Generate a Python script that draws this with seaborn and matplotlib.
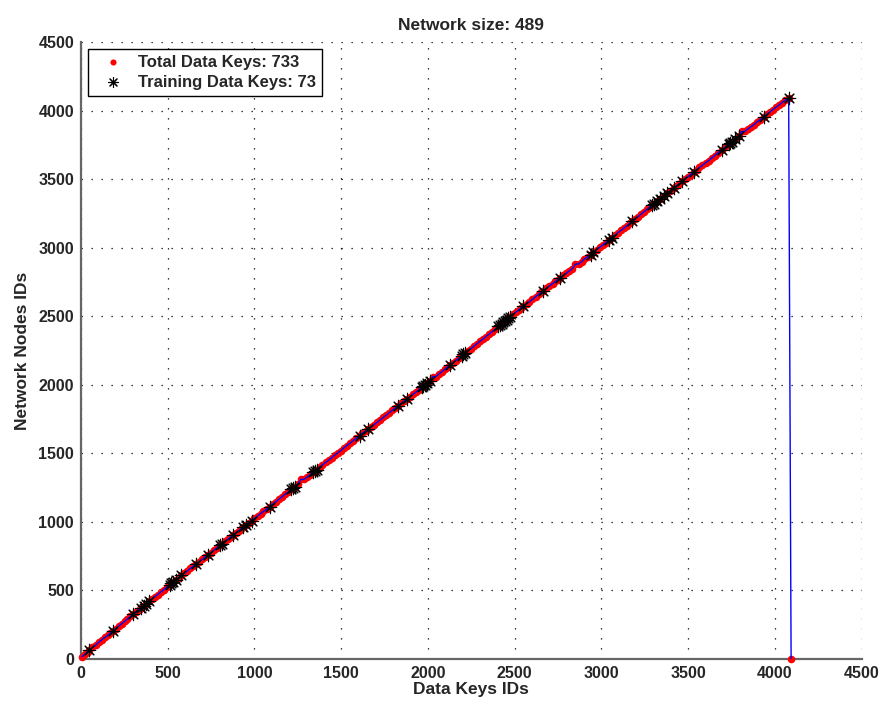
import matplotlib
matplotlib.use("Agg")
import matplotlib.pyplot as plt
import seaborn as sns
import pandas as pd

# ---- data ----
data_keys = [
    6, 22, 38, 49, 66, 84, 102, 120, 138, 155, 170, 184, 200, 218, 235, 252, 268, 285, 300, 316,
    332, 348, 362, 377, 392, 408, 425, 442, 460, 476, 494, 511, 521, 530, 547, 563, 579, 596, 613, 630,
    648, 665, 682, 700, 716, 732, 750, 767, 784, 800, 815, 832, 848, 862, 877, 894, 910, 922, 934, 950,
    966, 983, 1000, 1018, 1035, 1052, 1070, 1088, 1105, 1122, 1140, 1158, 1175, 1194, 1213, 1223, 1233, 1250, 1268, 1285,
    1302, 1320, 1338, 1348, 1358, 1375, 1392, 1410, 1428, 1445, 1462, 1480, 1498, 1515, 1532, 1550, 1568, 1588, 1608, 1622,
    1640, 1656, 1672, 1690, 1708, 1725, 1742, 1760, 1778, 1795, 1812, 1829, 1845, 1862, 1877, 1895, 1912, 1930, 1948, 1964,
    1974, 1983, 1993, 2010, 2028, 2045, 2062, 2080, 2098, 2115, 2127, 2142, 2160, 2178, 2195, 2204, 2213, 2230, 2248, 2265,
    2282, 2300, 2318, 2335, 2352, 2370, 2388, 2406, 2416, 2425, 2435, 2444, 2454, 2464, 2473, 2490, 2508, 2524, 2538, 2550,
    2568, 2585, 2602, 2620, 2638, 2652, 2665, 2682, 2700, 2718, 2735, 2750, 2762, 2780, 2798, 2815, 2832, 2850, 2868, 2885,
    2902, 2920, 2937, 2954, 2972, 2990, 3008, 3025, 3042, 3060, 3078, 3095, 3112, 3130, 3148, 3162, 3175, 3192, 3210, 3228,
    3245, 3262, 3278, 3291, 3300, 3320, 3339, 3358, 3377, 3396, 3416, 3432, 3448, 3464, 3480, 3498, 3515, 3531, 3548, 3565,
    3582, 3600, 3618, 3635, 3652, 3670, 3695, 3714, 3733, 3742, 3752, 3772, 3791, 3808, 3825, 3842, 3860, 3878, 3895, 3915,
    3935, 3952, 3970, 3988, 4005, 4022, 4040, 4058, 4079, 4093,
]
data_nodes = [
    17, 35, 52, 66, 84, 100, 122, 140, 158, 172, 192, 206, 222, 240, 258, 275, 292, 310, 326, 342,
    360, 374, 390, 404, 420, 436, 452, 470, 488, 505, 522, 540, 552, 560, 578, 594, 610, 626, 642, 660,
    676, 692, 710, 726, 744, 760, 776, 794, 810, 828, 842, 858, 874, 890, 904, 920, 936, 950, 962, 976,
    992, 1008, 1026, 1044, 1060, 1076, 1094, 1112, 1130, 1146, 1164, 1182, 1200, 1218, 1238, 1248, 1258, 1276, 1310, 1310,
    1326, 1344, 1362, 1372, 1382, 1400, 1416, 1434, 1450, 1468, 1486, 1504, 1520, 1540, 1556, 1574, 1592, 1612, 1630, 1646,
    1662, 1678, 1694, 1710, 1728, 1746, 1762, 1780, 1798, 1816, 1832, 1848, 1864, 1880, 1896, 1912, 1930, 1946, 1964, 1982,
    1992, 2000, 2010, 2026, 2060, 2060, 2078, 2096, 2114, 2132, 2144, 2158, 2176, 2194, 2212, 2222, 2232, 2248, 2264, 2282,
    2300, 2318, 2336, 2352, 2370, 2388, 2406, 2426, 2436, 2446, 2456, 2466, 2476, 2486, 2496, 2514, 2532, 2548, 2562, 2574,
    2590, 2606, 2624, 2642, 2660, 2674, 2688, 2704, 2722, 2738, 2754, 2768, 2780, 2798, 2814, 2832, 2848, 2880, 2882, 2898,
    2918, 2934, 2950, 2968, 2986, 3004, 3020, 3038, 3056, 3072, 3092, 3110, 3126, 3144, 3162, 3178, 3192, 3208, 3226, 3244,
    3262, 3280, 3296, 3310, 3320, 3340, 3358, 3378, 3396, 3414, 3434, 3450, 3466, 3484, 3500, 3518, 3534, 3552, 3568, 3586,
    3602, 3620, 3636, 3654, 3672, 3690, 3714, 3734, 3754, 3764, 3774, 3792, 3812, 3848, 3848, 3864, 3880, 3898, 3916, 3934,
    3956, 3972, 3990, 4008, 4024, 4040, 4058, 4076, 4092, 0,
]
training_keys = [
    49, 184, 300, 348, 377, 511, 530, 579, 665, 732, 800, 815, 877, 934, 983,
    1088, 1213, 1233, 1338, 1358, 1608, 1656, 1829, 1877, 1964, 1983, 1993,
    2127, 2204, 2213, 2406, 2425, 2444, 2464, 2473, 2550, 2665, 2762, 2954, 3060,
    3175, 3291, 3300, 3339, 3377, 3416, 3464, 3531, 3695, 3733, 3752, 3791, 3935, 4079,
    362, 392, 521, 547, 950, 1223, 1348, 2010, 1974, 2416, 2435, 2454, 2195,
    3320, 3358, 3742, 3772, 3042, 2937,
]
total_data_keys = 733
network_size = 489
x_ticks = [0, 500, 1000, 1500, 2000, 2500, 3000, 3500, 4000, 4500]
y_ticks = [0, 500, 1000, 1500, 2000, 2500, 3000, 3500, 4000, 4500]

node_of = dict(zip(data_keys, data_nodes))
df_all = pd.DataFrame({"key": data_keys, "node": data_nodes})
df_train = pd.DataFrame({"key": training_keys,
                         "node": [node_of[k] for k in training_keys]})

sns.set_style("white")
plt.rcParams["font.family"] = ["Liberation Sans", "DejaVu Sans"]
plt.rcParams["font.weight"] = "bold"

fig = plt.figure(figsize=(8.82, 7.02), dpi=100)
ax = fig.add_axes([0.0918, 0.0613, 0.8852, 0.8787])

sns.scatterplot(data=df_all, x="key", y="node", ax=ax, color="#ff0000",
                marker="o", s=30, linewidth=0, zorder=6, clip_on=False,
                label=f"Total Data Keys: {total_data_keys}")
sns.lineplot(data=df_all, x="key", y="node", ax=ax, sort=False,
             estimator=None, color="#0000ff", linewidth=1.0, zorder=7,
             legend=False)
sns.scatterplot(data=df_train, x="key", y="node", ax=ax, color="black",
                marker=(8, 2, 0), s=80, linewidth=0.8, zorder=8,
                label=f"Training Data Keys: {len(df_train)}")

ax.set_xlim(0, 4500)
ax.set_ylim(0, 4500)
ax.set_xticks(x_ticks)
ax.set_yticks(y_ticks)
ax.set_xticklabels([str(t) for t in x_ticks], fontsize=11.5, fontweight="bold")
ax.set_yticklabels([str(t) for t in y_ticks], fontsize=11.5, fontweight="bold")
ax.tick_params(direction="in", length=6, width=1.0, color="#333333", pad=5)

ax.grid(True, color="black", linestyle=(0, (1, 7)), linewidth=0.9, zorder=5)
ax.set_axisbelow(False)
for side in ["top", "right"]:
    ax.spines[side].set_visible(False)
for side in ["left", "bottom"]:
    ax.spines[side].set_color("#666666")
    ax.spines[side].set_linewidth(1.6)
    ax.spines[side].set_zorder(4)

ax.set_xlabel("Data Keys IDs", fontsize=12.5, fontweight="bold", labelpad=1)
ax.set_ylabel("Network Nodes IDs", fontsize=12.5, fontweight="bold", labelpad=6)
ax.set_title(f"Network size: {network_size}", fontsize=12.5, fontweight="bold", pad=9)

leg = ax.legend(loc="upper left", bbox_to_anchor=(0.002, 0.997), frameon=True,
                fancybox=False, edgecolor="black", framealpha=1,
                prop={"size": 12, "weight": "bold"}, borderpad=0.35,
                labelspacing=0.3, handletextpad=0.4, handlelength=2.3,
                borderaxespad=0.3, markerscale=0.8)
leg.get_frame().set_linewidth(1.0)
leg.set_zorder(10)

fig.savefig("out.png", dpi=100)
